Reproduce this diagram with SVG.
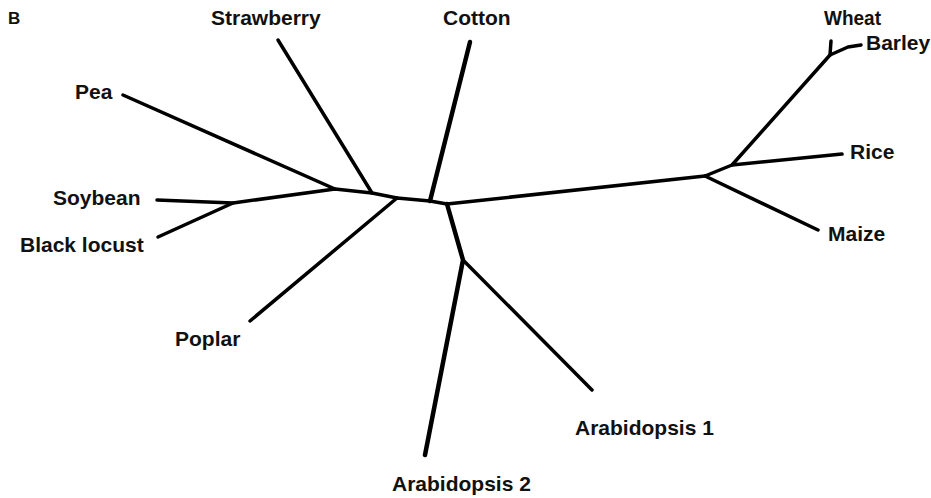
<svg xmlns="http://www.w3.org/2000/svg" width="931" height="498" viewBox="0 0 931 498">
<style>
.e{fill:none;stroke:#000;stroke-width:3.5;stroke-linecap:round;stroke-linejoin:round}
.t{stroke-width:4.5}
text{font-family:"Liberation Sans",Arial,sans-serif;font-weight:bold;font-size:21px;fill:#111}
</style>
<rect width="931" height="498" fill="#fff"/>
<text x="8" y="24" style="font-size:17px">B</text>
<g id="edges">
<path class="e" d="M123,95 L335,189"/>
<path class="e" d="M157,200 L233,203 L335,189 L372,193"/>
<path class="e" d="M158,237 L233,203"/>
<path class="e" d="M278,40 L372,193 L397,198"/>
<path class="e" d="M250,321 L397,198 L430,201 L447,204"/>
<path class="e t" d="M470,42 L430,201"/>
<path class="e" d="M447,204 L705,176 L732,165 L830,55"/>
<path class="e" d="M705,176 L818,230"/>
<path class="e" d="M732,165 L842,154"/>
<path class="e" d="M830,55 L831,41"/>
<path class="e" d="M830,55 L848,47 L861,45"/>
<path class="e t" d="M447,204 L463,260 L425,455"/>
<path class="e" d="M463,260 L592,390"/>
</g>
<g id="n-pea"><text x="75" y="99">Pea</text></g>
<g id="n-strawberry"><text x="211" y="25">Strawberry</text></g>
<g id="n-cotton"><text x="443" y="25">Cotton</text></g>
<g id="n-soybean"><text x="53" y="205">Soybean</text></g>
<g id="n-blacklocust"><text x="20" y="252">Black locust</text></g>
<g id="n-poplar"><text x="175" y="346">Poplar</text></g>
<g id="n-wheat"><text x="824" y="25" textLength="57" lengthAdjust="spacingAndGlyphs">Wheat</text></g>
<g id="n-barley"><text x="866" y="50">Barley</text></g>
<g id="n-rice"><text x="850" y="159">Rice</text></g>
<g id="n-maize"><text x="828" y="241">Maize</text></g>
<g id="n-arabidopsis1"><text x="575" y="435">Arabidopsis 1</text></g>
<g id="n-arabidopsis2"><text x="392" y="491">Arabidopsis 2</text></g>
</svg>
